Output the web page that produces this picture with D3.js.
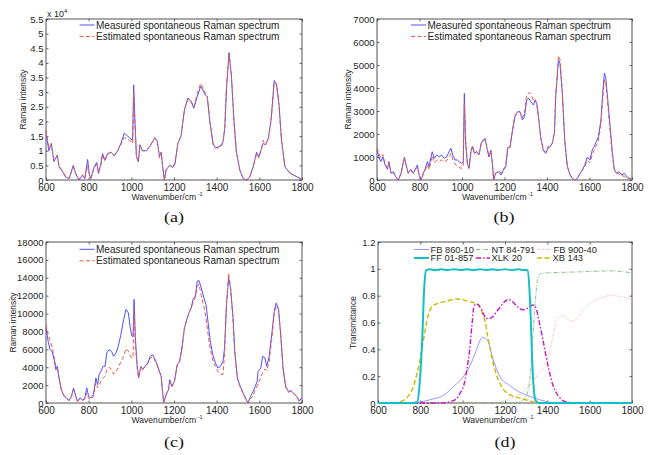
<!DOCTYPE html>
<html><head><meta charset="utf-8">
<script src="https://cdn.jsdelivr.net/npm/d3@7"></script>
<style>body{margin:0;background:#fff}svg{display:block}</style>
</head><body>
<svg id="chart" width="651" height="455"></svg>
<script>
// ---------------- DATA ----------------
const xTicks = [600, 800, 1000, 1200, 1400, 1600, 1800];
const yTicksA = [0, 5000, 10000, 15000, 20000, 25000, 30000, 35000, 40000, 45000, 50000, 55000];
const yTicksB = [0, 1000, 2000, 3000, 4000, 5000, 6000, 7000];
const yTicksC = [0, 2000, 4000, 6000, 8000, 10000, 12000, 14000, 16000, 18000];
const yTicksD = [0, 0.2, 0.4, 0.6, 0.8, 1, 1.2];
const seriesNames = ["Measured spontaneous Raman spectrum", "Estimated spontaneous Raman spectrum"];
const captions = ["(a)", "(b)", "(c)", "(d)"];

// Panel (a) (units of 1e4)
const waveA = [600,614,625,637,653,661,677,692,708,728,740,755,771,782,795,803,810,826,838,846,857,865,876,889,905,920,936,951,967,983,998,1006,1011,1017,1024,1033,1040,1052,1071,1087,1109,1121,1132,1140,1147,1155,1163,1180,1195,1205,1218,1233,1249,1265,1280,1293,1309,1325,1336,1347,1356,1367,1383,1394,1414,1430,1438,1446,1458,1469,1481,1492,1508,1524,1540,1555,1571,1587,1598,1610,1618,1629,1642,1655,1670,1681,1692,1704,1720,1743,1766,1798];
const measA = [1.55,1.0,1.25,0.63,0.85,0.45,0.3,0.1,0.05,0.5,0.2,0.0,0.15,0.05,0.7,0.2,0.05,0.45,0.6,0.22,0.55,0.9,0.68,0.9,0.95,0.83,1.0,1.25,1.6,1.5,1.4,1.35,3.25,2.0,0.8,0.62,1.2,1.0,1.0,1.15,1.42,1.35,0.8,0.95,0.45,0.0,0.35,0.5,0.43,0.57,1.25,1.5,2.4,2.8,2.68,2.45,2.85,3.2,3.07,2.9,2.85,2.05,1.25,1.1,1.14,1.3,1.77,3.1,4.35,3.55,2.05,1.0,0.35,0.05,0.0,0.1,0.45,0.95,0.8,1.08,1.25,1.2,1.42,2.05,3.4,3.25,2.6,1.37,0.45,0.23,0.15,0.03];
const estA  = [1.7,1.1,1.2,0.7,0.8,0.5,0.3,0.12,0.05,0.45,0.2,0.02,0.18,0.05,0.5,0.2,0.05,0.4,0.55,0.25,0.5,0.85,0.65,0.9,0.95,0.83,1.0,1.2,1.45,1.4,1.3,1.25,3.0,1.9,0.8,0.62,1.2,1.0,1.0,1.15,1.45,1.35,0.75,0.95,0.45,0.0,0.35,0.5,0.45,0.6,1.25,1.5,2.4,2.75,2.7,2.5,2.95,3.3,3.15,2.95,2.85,2.1,1.2,1.1,1.1,1.25,1.8,3.2,4.3,3.6,2.0,0.95,0.35,0.05,0.0,0.1,0.45,0.9,0.75,1.05,1.35,1.2,1.4,2.0,3.35,3.3,2.55,1.3,0.45,0.25,0.15,0.0];

// Panel (b)
const waveB = [600,609,618,628,638,649,656,666,677,688,700,713,721,729,737,747,759,771,780,790,798,808,818,826,837,845,854,860,869,881,893,904,916,928,939,948,956,967,978,987,998,1006,1011,1017,1025,1033,1042,1050,1058,1069,1080,1090,1100,1109,1119,1127,1136,1143,1149,1158,1171,1184,1195,1206,1215,1226,1237,1249,1261,1273,1284,1294,1304,1315,1324,1336,1344,1352,1360,1370,1382,1394,1404,1415,1425,1435,1441,1454,1461,1472,1484,1496,1508,1521,1532,1543,1555,1566,1578,1590,1602,1613,1622,1632,1642,1654,1662,1670,1676,1686,1697,1708,1717,1728,1739,1752,1764,1775,1788,1798];
const measB = [1300,1000,800,1000,650,460,800,290,360,140,0,290,650,1000,650,290,460,290,460,650,220,0,290,460,800,580,1000,1230,940,1090,1000,1090,940,1000,1230,1380,1090,870,870,800,725,800,3770,1600,725,500,1230,1450,1160,1230,1090,1600,1740,1810,1300,1000,1300,725,0,290,360,220,435,580,1380,1450,2100,2750,2970,2970,2610,2750,3480,3550,3400,3260,3480,3330,2750,1880,1300,1160,1380,1450,1600,2030,3620,5220,5070,3770,1600,580,220,40,0,70,290,435,650,1000,870,1300,1450,1670,1880,2610,3770,4640,4490,3480,2320,1160,435,290,360,220,290,140,70,70];
const estB  = [1400,1150,950,1100,700,500,750,330,300,150,20,250,600,950,650,300,400,300,450,550,250,30,250,400,650,450,800,1050,750,850,800,880,800,850,1000,1150,900,700,600,550,500,650,3300,1800,750,550,1300,1500,1200,1250,1100,1550,1700,1750,1350,1050,1250,700,0,300,400,300,500,600,1450,1400,2150,2800,2950,2950,2700,2900,3700,3800,3750,3450,3500,3300,2700,1850,1350,1200,1450,1500,1600,2100,3700,5400,5250,3900,1700,600,250,50,0,80,250,400,600,850,750,1100,1300,1500,1700,2500,3500,4350,4300,3300,2100,1000,450,300,250,200,150,100,50,0];

// Panel (c)
const waveC = [600,610,619,628,638,646,653,661,672,685,697,708,719,729,740,747,759,771,781,791,800,810,822,834,842,849,857,868,877,885,896,907,917,928,939,951,964,975,986,995,1003,1008,1013,1019,1027,1034,1045,1053,1064,1077,1089,1100,1108,1121,1132,1140,1146,1152,1163,1174,1180,1190,1202,1215,1226,1237,1249,1262,1273,1281,1289,1300,1309,1317,1328,1340,1350,1359,1370,1382,1394,1406,1418,1430,1437,1446,1456,1465,1477,1485,1497,1508,1524,1535,1547,1559,1571,1578,1590,1594,1607,1615,1626,1634,1645,1658,1670,1679,1690,1700,1711,1723,1736,1748,1759,1775,1787,1798];
const measC = [8400,6900,5970,5780,4850,3730,4100,2800,1490,750,560,260,750,1680,750,190,560,370,450,1680,750,560,930,2800,2050,3170,3540,4100,4100,5600,5970,5780,5220,5600,6340,7650,9330,10450,10070,8400,7460,7460,11570,7280,4290,2800,4100,3730,4100,4480,5220,5410,5040,4290,3540,2990,1300,70,930,1490,2610,1870,2430,4290,4660,6160,8400,9520,10260,10630,11570,11940,13620,13690,12870,11750,11010,9140,6900,5410,4480,3920,4100,4660,6160,11010,13990,12870,9520,5780,2800,2050,1120,560,0,750,1300,1680,2430,3540,3920,5220,5040,4100,5040,7650,10260,11190,10450,7650,3920,1870,1300,1380,1120,750,190,560];
const estC  = [8800,7600,7000,6300,5200,4200,4000,2800,1500,800,500,260,700,1500,700,200,400,300,400,1100,500,400,700,2300,1700,2000,2400,2800,3000,3700,4000,3700,3200,3500,4000,4600,5200,6100,5800,5300,5000,5200,10500,6500,4000,2800,4000,3700,4100,4400,5000,5200,4900,4200,3400,3000,1300,70,900,1400,2300,1800,2400,4200,4600,6000,8300,9500,10200,10700,11200,11800,13000,13300,12000,10800,9500,7800,6000,4800,4100,3500,3200,3200,5500,11000,14500,13000,9000,5500,2700,1900,1000,500,0,500,800,1300,1900,2200,2800,3400,3800,3600,4500,7000,10000,10800,10500,7800,4000,1800,1200,1300,1100,700,300,200];

// Panel (d) filter transmittance
const filterNames = ["FB 860-10", "NT 84-791", "FB 900-40", "FF 01-857", "XLK 20", "XB 143"];
const waveFB860 = [600,700,760,800,860,908,955,1000,1035,1066,1080,1094,1105,1120,1143,1175,1222,1269,1316,1363,1410,1450,1800];
const transFB860 = [0,0,0.002,0.008,0.03,0.055,0.12,0.19,0.28,0.40,0.46,0.49,0.485,0.46,0.33,0.2,0.13,0.08,0.05,0.025,0.005,0,0];
const waveNT84 = [600,1250,1290,1310,1322,1331,1343,1355,1371,1400,1500,1600,1700,1750,1800];
const transNT84 = [0,0,0.03,0.1,0.25,0.48,0.75,0.93,0.965,0.97,0.975,0.98,0.985,0.98,0.97];
const waveFB900 = [600,1150,1200,1250,1300,1350,1400,1430,1443,1460,1475,1500,1520,1545,1575,1600,1650,1693,1740,1770,1800];
const transFB900 = [0,0,0.02,0.05,0.1,0.2,0.33,0.52,0.62,0.65,0.655,0.62,0.61,0.64,0.7,0.74,0.78,0.8,0.795,0.785,0.77];
const waveFF01 = [600,760,785,797,809,818,828,845,870,900,930,960,990,1020,1050,1080,1110,1140,1170,1200,1230,1260,1290,1308,1319,1331,1344,1360,1800];
const transFF01 = [0,0,0.005,0.15,0.48,0.85,0.99,0.997,0.99,0.996,0.991,0.997,0.991,0.996,0.99,0.997,0.991,0.996,0.991,0.997,0.991,0.996,0.991,0.99,0.73,0.23,0.02,0,0];
const waveXLK = [600,900,940,970,990,1005,1020,1033,1045,1052,1064,1075,1088,1100,1111,1125,1143,1160,1175,1195,1214,1230,1245,1265,1284,1300,1320,1331,1340,1350,1365,1378,1395,1410,1425,1441,1458,1472,1500,1550,1800];
const transXLK = [0,0,0.01,0.03,0.08,0.13,0.25,0.4,0.6,0.71,0.74,0.73,0.7,0.66,0.63,0.63,0.645,0.68,0.71,0.75,0.77,0.765,0.74,0.71,0.695,0.7,0.72,0.73,0.725,0.69,0.58,0.48,0.34,0.23,0.14,0.08,0.04,0.02,0.005,0,0];
const waveXB = [600,650,690,715,737,755,769,781,793,805,816,832,848,865,879,900,926,950,973,1000,1020,1045,1060,1072,1083,1095,1107,1118,1130,1145,1162,1178,1193,1215,1240,1287,1330,1380,1420,1800];
const transXB = [0,0.002,0.005,0.015,0.04,0.08,0.13,0.2,0.28,0.38,0.48,0.62,0.7,0.73,0.74,0.75,0.76,0.77,0.775,0.77,0.76,0.75,0.745,0.73,0.71,0.66,0.6,0.5,0.4,0.29,0.2,0.14,0.1,0.07,0.05,0.03,0.01,0.002,0,0];

// ---------------- DRAWING ----------------
const svg = d3.select("#chart");
const SANS = "'Liberation Sans', Arial, Helvetica, sans-serif";
const TXT = "#262626";
const FRAME = "#404040";

const measStyle = {stroke: "#5050ff", width: 1, dash: null};
const estStyle = {stroke: "#ee5a45", width: 1, dash: "4,2.5"};

function makeAxes(box, yMax, yTicks, yFmt, yLabel) {
  const g = svg.append("g");
  const x = d3.scaleLinear().domain([600, 1800]).range([box.l, box.r]);
  const y = d3.scaleLinear().domain([0, yMax]).range([box.b, box.t]);
  const style = fs => sel => {
    sel.select(".domain").remove();
    sel.attr("font-family", SANS).attr("font-size", fs);
    sel.selectAll("line").attr("stroke", FRAME).attr("stroke-width", 0.8);
    sel.selectAll("text").attr("fill", TXT);
  };
  g.append("g").attr("transform", `translate(0,${box.b})`)
    .call(d3.axisBottom(x).tickValues(xTicks).tickSizeInner(-2.5).tickSizeOuter(0).tickPadding(3.5).tickFormat(d3.format("d")))
    .call(style(10));
  g.append("g").attr("transform", `translate(0,${box.t})`)
    .call(d3.axisTop(x).tickValues(xTicks).tickSizeInner(-2.5).tickSizeOuter(0).tickFormat(""))
    .call(style(10));
  g.append("g").attr("transform", `translate(${box.l},0)`)
    .call(d3.axisLeft(y).tickValues(yTicks).tickSizeInner(-2.5).tickSizeOuter(0).tickPadding(2.5).tickFormat(yFmt))
    .call(style(9.5));
  g.append("g").attr("transform", `translate(${box.r},0)`)
    .call(d3.axisRight(y).tickValues(yTicks).tickSizeInner(-2.5).tickSizeOuter(0).tickFormat(""))
    .call(style(9.5));
  g.append("rect").attr("x", box.l).attr("y", box.t).attr("width", box.r - box.l).attr("height", box.b - box.t)
    .attr("fill", "none").attr("stroke", FRAME).attr("stroke-width", 0.9);
  // x label
  const xl = g.append("text").attr("x", (box.l + box.r) / 2 - 7).attr("y", box.b + 19.5)
    .attr("text-anchor", "middle").attr("font-family", SANS).attr("font-size", 8.6).attr("fill", TXT)
    .text("Wavenumber/cm");
  xl.append("tspan").attr("font-size", 5.5).attr("dy", -4).text(" -1");
  // y label
  g.append("text").attr("transform", `translate(${box.yl},${(box.t + box.b) / 2}) rotate(-90)`)
    .attr("text-anchor", "middle").attr("font-family", SANS).attr("font-size", 8.4).attr("fill", TXT)
    .text(yLabel);
  // caption
  g.append("text").attr("transform", `translate(${box.cx},${box.cy}) scale(1.2,1)`)
    .attr("text-anchor", "middle").attr("font-family", "'Liberation Serif', 'Times New Roman', serif")
    .attr("font-size", 15).attr("fill", "#111").text(box.cap);
  return {g, x, y};
}

function drawLine(ax, xs, ys, st, curve) {
  const pts = xs.map((v, i) => [v, ys[i]]);
  const line = d3.line().x(d => ax.x(d[0])).y(d => ax.y(d[1])).curve(curve || d3.curveLinear);
  const p = ax.g.append("path").datum(pts).attr("d", line).attr("fill", "none")
    .attr("stroke", st.stroke).attr("stroke-width", st.width).attr("stroke-linejoin", "round");
  if (st.dash) p.attr("stroke-dasharray", st.dash);
}

function legendRow(g, x1, x2, yy, st, label, fs) {
  const l = g.append("line").attr("x1", x1).attr("x2", x2).attr("y1", yy).attr("y2", yy)
    .attr("stroke", st.stroke).attr("stroke-width", st.width);
  if (st.dash) l.attr("stroke-dasharray", st.dash);
  g.append("text").attr("x", x2 + 1.5).attr("y", yy).attr("dy", "0.35em")
    .attr("font-family", SANS).attr("font-size", fs).attr("fill", TXT).text(label);
}

function spectrumPanel(box, yMax, yTicks, yFmt, xs, meas, est, scale) {
  const ax = makeAxes(box, yMax, yTicks, yFmt, "Raman intensity");
  drawLine(ax, xs, meas.map(v => v * scale), measStyle);
  drawLine(ax, xs, est.map(v => v * scale), estStyle);
  legendRow(ax.g, box.lg, box.lg + 15, box.t + box.ly, measStyle, seriesNames[0], 10);
  legendRow(ax.g, box.lg, box.lg + 15, box.t + box.ly + 11.5, estStyle, seriesNames[1], 10);
  return ax;
}

// (a)
const boxA = {l: 46, r: 302, t: 19, b: 180, yl: 26, cx: 174, cy: 222, cap: captions[0], lg: 79.5, ly: 6};
const axA = spectrumPanel(boxA, 55000, yTicksA, d => String(+(d / 1e4).toFixed(1)), waveA, measA, estA, 1e4);
const mult = axA.g.append("text").attr("x", 47).attr("y", 16.5).attr("font-family", SANS).attr("font-size", 9)
  .attr("fill", TXT).text("x 10");
mult.append("tspan").attr("font-size", 6).attr("dy", -4).text("4");

// (b)
const boxB = {l: 377, r: 632, t: 19, b: 180, yl: 351, cx: 504, cy: 222, cap: captions[1], lg: 411, ly: 6};
spectrumPanel(boxB, 7000, yTicksB, d3.format("d"), waveB, measB, estB, 1);

// (c)
const boxC = {l: 46, r: 302, t: 242, b: 403, yl: 15.5, cx: 174, cy: 447, cap: captions[2], lg: 79.5, ly: 7.3};
spectrumPanel(boxC, 18000, yTicksC, d3.format("d"), waveC, measC, estC, 1);

// (d)
const boxD = {l: 378, r: 632, t: 242, b: 403, yl: 356, cx: 505, cy: 447, cap: captions[3]};
const axD = makeAxes(boxD, 1.2, yTicksD, d => String(+d.toFixed(1)), "Transmittance");
const sFB860 = {stroke: "#7b7bff", width: 0.8, dash: null};
const sNT84 = {stroke: "#6fae6f", width: 0.8, dash: "4,1.5,1,1.5"};
const sFB900 = {stroke: "#ff9a9a", width: 0.9, dash: "1,1.5"};
const sFF01 = {stroke: "#12bfc4", width: 2, dash: null};
const sXLK = {stroke: "#c814c8", width: 1.4, dash: "5,2,1.5,2"};
const sXB = {stroke: "#cdb800", width: 1.4, dash: "5,2.5"};
const mono = d3.curveMonotoneX;
drawLine(axD, waveFB900, transFB900, sFB900, mono);
drawLine(axD, waveNT84, transNT84, sNT84, mono);
drawLine(axD, waveFB860, transFB860, sFB860, mono);
drawLine(axD, waveXB, transXB, sXB, mono);
drawLine(axD, waveXLK, transXLK, sXLK, mono);
drawLine(axD, waveFF01, transFF01, sFF01, mono);
const r1 = 249.5, r2 = 258;
legendRow(axD.g, 414, 429, r1, sFB860, filterNames[0], 9.3);
legendRow(axD.g, 476, 490, r1, sNT84, filterNames[1], 9.3);
legendRow(axD.g, 538, 552, r1, sFB900, filterNames[2], 9.3);
legendRow(axD.g, 414, 429, r2, sFF01, filterNames[3], 9.3);
legendRow(axD.g, 476, 490, r2, sXLK, filterNames[4], 9.3);
legendRow(axD.g, 537, 551, r2, sXB, filterNames[5], 9.3);
</script>
</body></html>
